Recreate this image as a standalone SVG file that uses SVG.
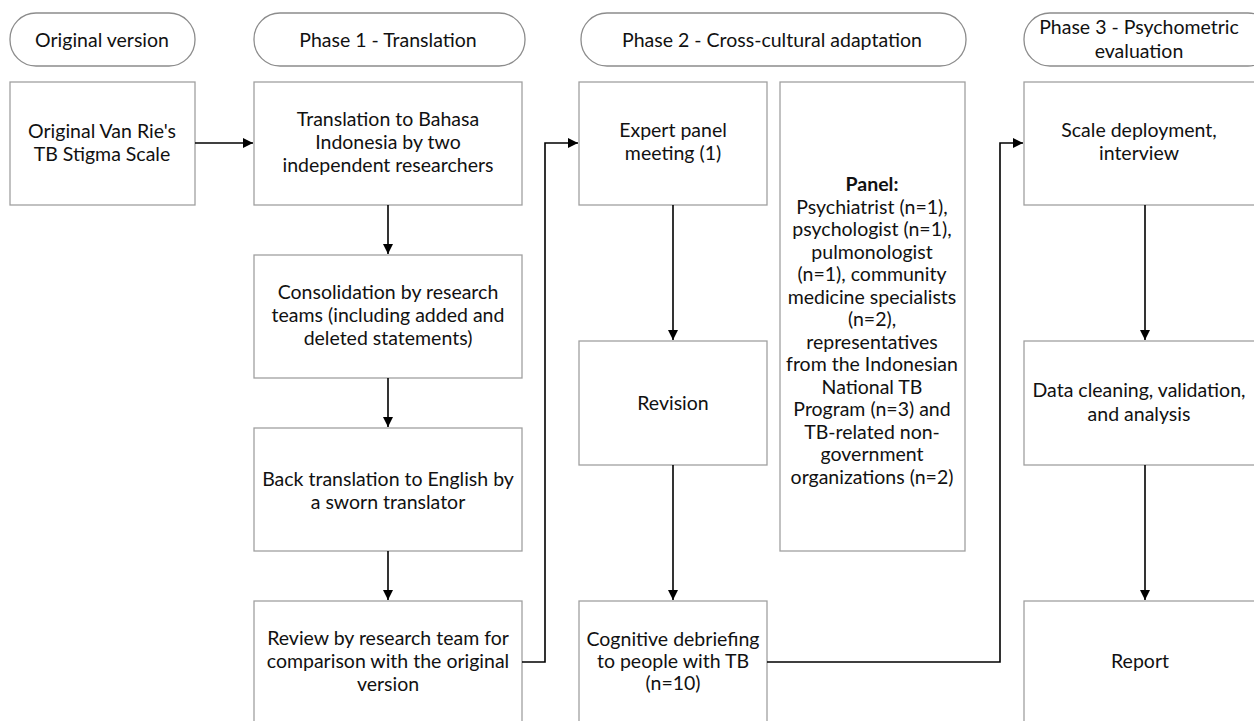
<svg xmlns="http://www.w3.org/2000/svg" width="1254" height="721" viewBox="0 0 1254 721">
<defs>
<marker id="ah" viewBox="0 0 10 10" refX="10" refY="5" markerWidth="10" markerHeight="10" markerUnits="userSpaceOnUse" orient="auto">
<path d="M0,0 L10,5 L0,10 Z" fill="#000"/>
</marker>
<style>
.box{fill:#fff;stroke:#a0a0a0;stroke-width:1.3}
.pill{fill:#fff;stroke:#8c8c8c;stroke-width:1.3}
.t{font-family:Lato,"Liberation Sans",sans-serif;font-size:19.5px;fill:#111;text-anchor:middle}
.b{font-weight:bold}
.c{fill:none;stroke:#000;stroke-width:1.6}
</style>
</defs>
<rect width="1254" height="721" fill="#fff"/>
<g id="h0"><rect class="pill" x="10" y="13" width="185" height="53" rx="26"/><text class="t" x="102" y="47">Original version</text></g>
<g id="h1"><rect class="pill" x="254" y="13" width="271" height="53" rx="26"/><text class="t" x="388" y="47">Phase 1 - Translation</text></g>
<g id="h2"><rect class="pill" x="581" y="13" width="385" height="53" rx="26"/><text class="t" x="772" y="47">Phase 2 - Cross-cultural adaptation</text></g>
<g id="h3"><rect class="pill" x="1024" y="13" width="250" height="53" rx="26"/><text class="t" x="1139" y="34">Phase 3 - Psychometric</text><text class="t" x="1139" y="58">evaluation</text></g>

<g id="n0"><rect class="box" x="10" y="82" width="185" height="123"/><text class="t" x="102" y="138">Original Van Rie's</text><text class="t" x="102" y="161">TB Stigma Scale</text></g>
<g id="n1"><rect class="box" x="254" y="82" width="268" height="123"/><text class="t" x="388" y="126">Translation to Bahasa</text><text class="t" x="388" y="149">Indonesia by two</text><text class="t" x="388" y="172">independent researchers</text></g>
<g id="n2"><rect class="box" x="254" y="255" width="268" height="123"/><text class="t" x="388" y="299">Consolidation by research</text><text class="t" x="388" y="322">teams (including added and</text><text class="t" x="388" y="345">deleted statements)</text></g>
<g id="n3"><rect class="box" x="254" y="428" width="268" height="123"/><text class="t" x="388" y="486">Back translation to English by</text><text class="t" x="388" y="509">a sworn translator</text></g>
<g id="n4"><rect class="box" x="254" y="601" width="268" height="130"/><text class="t" x="388" y="645">Review by research team for</text><text class="t" x="388" y="668">comparison with the original</text><text class="t" x="388" y="691">version</text></g>

<g id="n5"><rect class="box" x="579" y="82" width="188" height="123"/><text class="t" x="673" y="137">Expert panel</text><text class="t" x="673" y="160">meeting (1)</text></g>
<g id="n6"><rect class="box" x="579" y="341" width="188" height="124"/><text class="t" x="673" y="410">Revision</text></g>
<g id="n7"><rect class="box" x="579" y="601" width="188" height="130"/><text class="t" x="673" y="646">Cognitive debriefing</text><text class="t" x="673" y="668">to people with TB</text><text class="t" x="673" y="690">(n=10)</text></g>

<g id="n8"><rect class="box" x="780" y="82" width="185" height="469"/>
<text class="t b" x="872" y="191">Panel:</text>
<text class="t" x="872" y="213.5">Psychiatrist (n=1),</text>
<text class="t" x="872" y="236">psychologist (n=1),</text>
<text class="t" x="872" y="258.5">pulmonologist</text>
<text class="t" x="872" y="281">(n=1), community</text>
<text class="t" x="872" y="303.5">medicine specialists</text>
<text class="t" x="872" y="326">(n=2),</text>
<text class="t" x="872" y="348.5">representatives</text>
<text class="t" x="872" y="371">from the Indonesian</text>
<text class="t" x="872" y="393.5">National TB</text>
<text class="t" x="872" y="416">Program (n=3) and</text>
<text class="t" x="872" y="438.5">TB-related non-</text>
<text class="t" x="872" y="461">government</text>
<text class="t" x="872" y="483.5">organizations (n=2)</text>
</g>

<g id="n9"><rect class="box" x="1024" y="82" width="240" height="123"/><text class="t" x="1139" y="137">Scale deployment,</text><text class="t" x="1139" y="160">interview</text></g>
<g id="n10"><rect class="box" x="1024" y="341" width="240" height="124"/><text class="t" x="1139" y="397">Data cleaning, validation,</text><text class="t" x="1139" y="421">and analysis</text></g>
<g id="n11"><rect class="box" x="1024" y="601" width="240" height="130"/><text class="t" x="1140" y="668">Report</text></g>

<g id="connectors">
<path class="c" d="M195,143 H253" marker-end="url(#ah)"/>
<path class="c" d="M388,205 V254" marker-end="url(#ah)"/>
<path class="c" d="M388,378 V427" marker-end="url(#ah)"/>
<path class="c" d="M388,551 V600" marker-end="url(#ah)"/>
<path class="c" d="M522,662 H545 V143 H578" marker-end="url(#ah)"/>
<path class="c" d="M673,205 V340" marker-end="url(#ah)"/>
<path class="c" d="M673,465 V600" marker-end="url(#ah)"/>
<path class="c" d="M767,662 H1000 V143 H1023" marker-end="url(#ah)"/>
<path class="c" d="M1145,205 V340" marker-end="url(#ah)"/>
<path class="c" d="M1145,465 V600" marker-end="url(#ah)"/>
</g>
</svg>
